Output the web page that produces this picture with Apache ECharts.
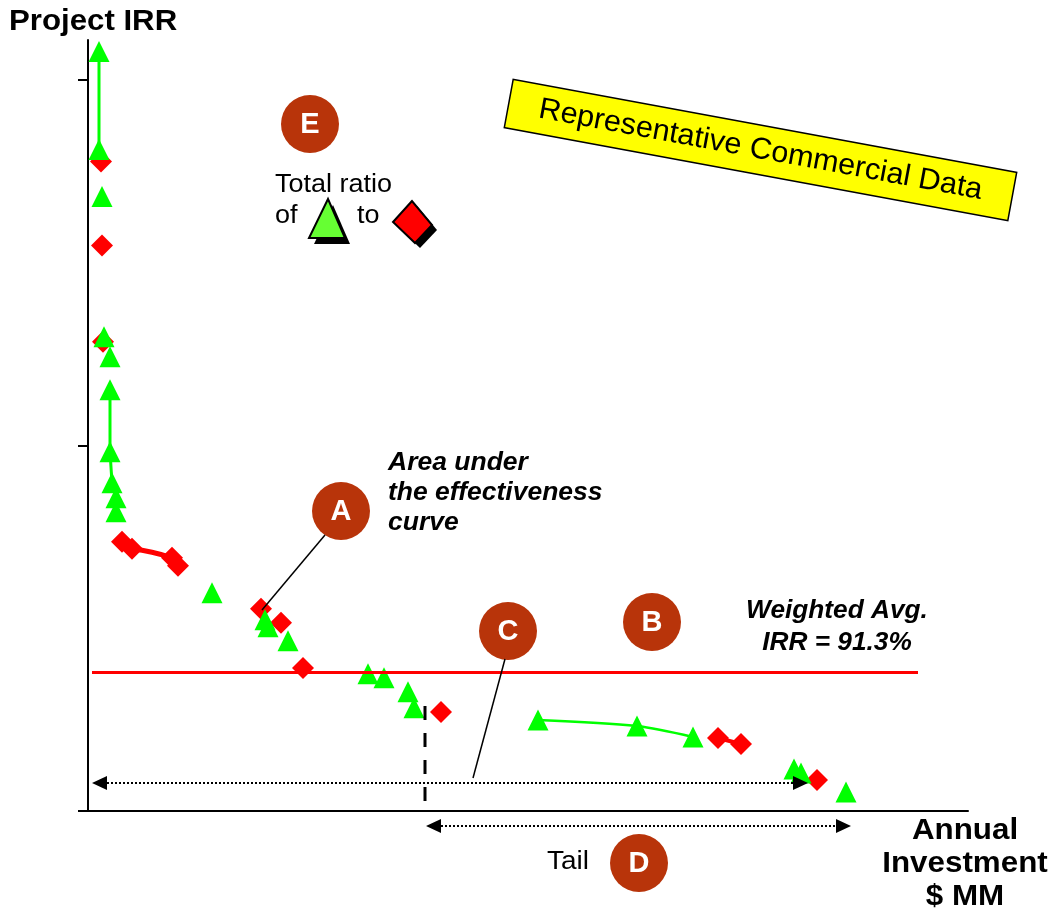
<!DOCTYPE html>
<html>
<head>
<meta charset="utf-8">
<script src="https://cdn.jsdelivr.net/npm/echarts@6/dist/echarts.min.js"></script>
<style>
html,body{margin:0;padding:0;background:#fff;}
#chart{width:1051px;height:915px;}
</style>
</head>
<body>
<div id="chart"></div>
<script>
// ---- data (x: annual investment $MM, y: project IRR %) ----
const greenTriangles = [
  [5.5,498.5],[5.5,434.2],[7,403.3],[8,311.3],[11,298.2],[11,276.5],[11,235.8],
  [12,215.4],[14,205.6],[14,196.4],[62,143.2],[88.5,125.5],[90,120.9],[100,111.7],
  [140,90.0],[148,87.4],[160,78.2],[163,67.7],[225,59.8],[274.5,55.8],[302.5,48.6],
  [353,27.6],[356.5,25.0],[379,12.5]
];
const redDiamonds = [
  [6.5,426.3],[7,371.1],[7.5,308.0],[17,176.7],[22,172.1],[42,166.2],[45,160.9],
  [86.5,132.7],[96.5,123.5],[107.5,93.9],[176.5,65.0],[315,47.9],[326.5,44.0],[364.5,20.4]
];
const greenCurveTop = [[5.5,498.5],[5.5,434.2]];
const greenCurveMid = [[11,276.5],[11,235.8],[12,215.4]];
const greenCurveTail = [[225,59.8],[274.5,55.8],[302.5,48.6]];
const redCurveA = [[22,172.1],[32,169.8],[42,166.2]];
const redCurveB = [[315,47.9],[326.5,44.0]];
const weightedAvgIRR = 91.3;
const avgLineRange = [2, 415];
const yTickValues = [0, 240, 480];
const xRange = [0, 440];
const yRange = [0, 506];

const FONT = "'Liberation Sans', Arial, sans-serif";
const BADGE = '#B8340A';

function txt(t, x, y, font, align, fill, sx) {
  return {type:'text', silent:true, z:50, x:x, y:y, scaleX:sx||1,
    style:{text:t, x:0, y:0, font:font + ' ' + FONT,
    align:align||'left', verticalAlign:'middle', fill:fill||'#000'}};
}
function badge(letter, cx, cy) {
  return [
    {type:'circle', silent:true, z:40, shape:{cx:cx, cy:cy, r:29}, style:{fill:BADGE}},
    txt(letter, cx, cy+1, 'bold 29px', 'center', '#fff')
  ];
}
function seg(x1,y1,x2,y2,w,dash){
  return {type:'line', silent:true, z:45, shape:{x1:x1,y1:y1,x2:x2,y2:y2},
    style:{stroke:'#000', lineWidth:w, lineDash:dash||null}};
}
function poly(pts, fill, stroke, lw){
  return {type:'polygon', silent:true, z:46, shape:{points:pts},
    style:{fill:fill, stroke:stroke||null, lineWidth:lw||0}};
}

const graphics = [].concat(
  [txt('Project IRR', 9, 22, 'bold 30px', 'left', '#000', 1.04)],
  [txt('Annual', 965, 831, 'bold 30px', 'center', '#000', 1.045),
   txt('Investment', 965, 864, 'bold 30px', 'center', '#000', 1.045),
   txt('$ MM', 965, 897, 'bold 30px', 'center', '#000', 1.045)],
  [txt('Area under', 388, 463, 'italic bold 25px', 'left', '#000', 1.06),
   txt('the effectiveness', 388, 493, 'italic bold 25px', 'left', '#000', 1.06),
   txt('curve', 388, 523, 'italic bold 25px', 'left', '#000', 1.06)],
  [txt('Weighted Avg.', 837, 611, 'italic bold 25px', 'center', '#000', 1.05),
   txt('IRR = 91.3%', 837, 643, 'italic bold 25px', 'center', '#000', 1.05)],
  [txt('Tail', 547, 862, '25px', 'left', '#000', 1.12)],
  [txt('Total ratio', 275, 185, '25px', 'left', '#000', 1.08),
   txt('of', 275, 216, '25px', 'left', '#000', 1.08),
   txt('to', 357, 216, '25px', 'left', '#000', 1.08)],
  // legend icons
  [poly([[333,205],[314,244],[350,244]], '#000'),
   poly([[328,199],[309,238],[345,238]], '#66FF33', '#000', 2),
   poly([[417,206],[398,227],[420,248],[437,230]], '#000'),
   poly([[412,201],[393,222],[415,243],[432,225]], '#FF0000', '#000', 2)],
  badge('E', 310, 124),
  badge('A', 341, 511),
  badge('B', 652, 622),
  badge('C', 508, 631),
  badge('D', 639, 863),
  [seg(325,535,262,610,1.5), seg(505,659,473,778,1.5)],
  // dashed vertical tail marker
  [seg(425,706,425,801,3,[14,13])],
  // dotted double arrows
  [seg(107,783,793,783,2,[2,2]),
   poly([[92,783],[107,776],[107,790]], '#000'),
   poly([[808,783],[793,776],[793,790]], '#000'),
   seg(441,826,836,826,2,[2,2]),
   poly([[426,826],[441,819],[441,833]], '#000'),
   poly([[851,826],[836,819],[836,833]], '#000')],
  // yellow rotated title box
  [{type:'group', x:760.5, y:150, rotation:-0.1824, z:60, silent:true, children:[
    {type:'rect', shape:{x:-256, y:-24.5, width:512, height:49},
     style:{fill:'#FFFF00', stroke:'#000', lineWidth:1.5}},
    {type:'text', scaleX:1.02, style:{text:'Representative Commercial Data', x:0, y:0, align:'center',
     verticalAlign:'middle', font:'30px ' + FONT, fill:'#000'}}
  ]}]
);

const chart = echarts.init(document.getElementById('chart'), null, {renderer:'canvas'});
chart.setOption({
  animation:false,
  backgroundColor:'#fff',
  grid:{left:88, right:83, top:40, bottom:104, containLabel:false},
  xAxis:{type:'value', min:xRange[0], max:xRange[1],
    axisLine:{show:true, onZero:false, lineStyle:{color:'#000', width:2}},
    axisTick:{show:false}, axisLabel:{show:false}, splitLine:{show:false}},
  yAxis:{type:'value', min:yRange[0], max:yRange[1],
    axisLine:{show:true, onZero:false, lineStyle:{color:'#000', width:2}},
    axisTick:{show:true, length:10, customValues:yTickValues, lineStyle:{color:'#000', width:2}},
    axisLabel:{show:false}, splitLine:{show:false}},
  graphic:graphics,
  series:[
    {type:'line', data:greenCurveTop, symbol:'none', lineStyle:{color:'#00FF00', width:3}, silent:true},
    {type:'line', data:greenCurveMid, symbol:'none', lineStyle:{color:'#00FF00', width:3}, silent:true},
    {type:'line', data:greenCurveTail, symbol:'none', smooth:0.3, lineStyle:{color:'#00FF00', width:2.5}, silent:true},
    {type:'line', data:redCurveA, symbol:'none', smooth:true, lineStyle:{color:'#FF0000', width:5}, silent:true},
    {type:'line', data:redCurveB, symbol:'none', lineStyle:{color:'#FF0000', width:4}, silent:true},
    {type:'scatter', data:redDiamonds, symbol:'diamond', symbolSize:[22,22],
      itemStyle:{color:'#FF0000', opacity:1}, silent:true},
    {type:'scatter', data:greenTriangles, symbol:'triangle', symbolSize:[21,21],
      itemStyle:{color:'#00FF00', opacity:1}, silent:true,
      markLine:{silent:true, symbol:'none', label:{show:false},
        lineStyle:{color:'#FF0000', width:3, type:'solid'},
        data:[[{coord:[avgLineRange[0], weightedAvgIRR]},{coord:[avgLineRange[1], weightedAvgIRR]}]]}}
  ]
});
</script>
</body>
</html>
